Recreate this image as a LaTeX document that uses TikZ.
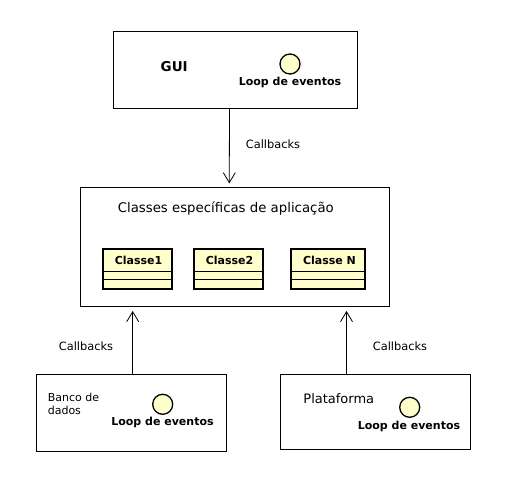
\documentclass[tikz,border=0pt]{standalone}
\usepackage{fontspec}
\setmainfont{DejaVu Sans}
\usetikzlibrary{arrows.meta}
\definecolor{classyellow}{HTML}{FFFFCC}
\begin{document}
\begin{tikzpicture}[x=1pt, y=-1pt, line width=1pt,
    box node/.style={rectangle,draw,fill=white,inner sep=0pt},
    class node/.style={rectangle,draw,line width=2pt,fill=classyellow,inner sep=0pt,minimum height=40pt},
    loop node/.style={circle,draw,line width=1.3pt,fill=classyellow,inner sep=0pt,minimum size=20pt},
    title node/.style={font=\fontsize{11}{13}\selectfont\bfseries,inner sep=0pt},
    plain node/.style={font=\fontsize{11.4}{13}\selectfont,inner sep=0pt},
    callback/.style={-{Straight Barb[length=10pt,width=12pt,line width=0.8pt]},line width=0.8pt}]

    \useasboundingbox (0,0) rectangle (507,489);

    \node[box node, minimum width=243.5pt, minimum height=76.5pt] at (235.25,70.2) (gui) {};
    \node[box node, minimum width=309pt, minimum height=118.5pt] at (235,247.2) (classes) {};
    \node[box node, minimum width=190pt, minimum height=76.5pt] at (131.5,413.2) (banco) {};
    \node[box node, minimum width=189.5pt, minimum height=75pt] at (375.25,412.4) (plataforma) {};

    \node[font=\fontsize{13.5}{16}\selectfont\bfseries, inner sep=0pt] at (174.2,66.5) (guilabel) {GUI};
    \node[loop node] at (290,64) (guiloop) {};
    \node[title node] at (290,82) (guilooplabel) {Loop de eventos};

    \node[font=\fontsize{13.3}{15}\selectfont, inner sep=0pt] at (225.8,208.5) (classeslabel) {Classes específicas de aplicação};

    \node[class node, minimum width=69.6pt] at (137.5,269.5) (classe1) {};
    \node[class node, minimum width=69.6pt] at (228.5,269.5) (classe2) {};
    \node[class node, minimum width=74pt] at (327.7,269.5) (classen) {};
    \node[title node] at (138.5,260.5) (classe1label) {Classe1};
    \node[title node] at (229.5,260.5) (classe2label) {Classe2};
    \node[title node] at (329.5,260.5) (classenlabel) {Classe N};

    \draw ([yshift=-2.2pt]classe1.west) -- ([yshift=-2.2pt]classe1.east);
    \draw ([yshift=-10.2pt]classe1.west) -- ([yshift=-10.2pt]classe1.east);
    \draw ([yshift=-2.2pt]classe2.west) -- ([yshift=-2.2pt]classe2.east);
    \draw ([yshift=-10.2pt]classe2.west) -- ([yshift=-10.2pt]classe2.east);
    \draw ([yshift=-2.2pt]classen.west) -- ([yshift=-2.2pt]classen.east);
    \draw ([yshift=-10.2pt]classen.west) -- ([yshift=-10.2pt]classen.east);

    \node[plain node, font=\fontsize{11}{13}\selectfont, align=left, anchor=west] at (47.3,403.5) (bancolabel) {Banco de\\dados};
    \node[loop node] at (162.7,404.3) (bancoloop) {};
    \node[title node] at (162.5,422.7) (bancolooplabel) {Loop de eventos};

    \node[font=\fontsize{13}{15}\selectfont, inner sep=0pt] at (338.8,399) (plataformalabel) {Plataforma};
    \node[loop node] at (409.7,407.3) (plataformaloop) {};
    \node[title node] at (409,426) (plataformalooplabel) {Loop de eventos};

    \path[callback] ([xshift=-5.75pt]gui.south) edge[shorten >=4pt] ([xshift=-5.75pt]classes.north);
    \path[callback] ([xshift=1.2pt]banco.north) edge[shorten >=4pt] ([xshift=-102.3pt]classes.south);
    \path[callback] ([xshift=-28.75pt]plataforma.north) edge[shorten >=4pt] ([xshift=111.5pt]classes.south);

    \node[plain node] at (273,144.5) (callbacks1) {Callbacks};
    \node[plain node] at (86,346.5) (callbacks2) {Callbacks};
    \node[plain node] at (400,346.5) (callbacks3) {Callbacks};
\end{tikzpicture}
\end{document}
